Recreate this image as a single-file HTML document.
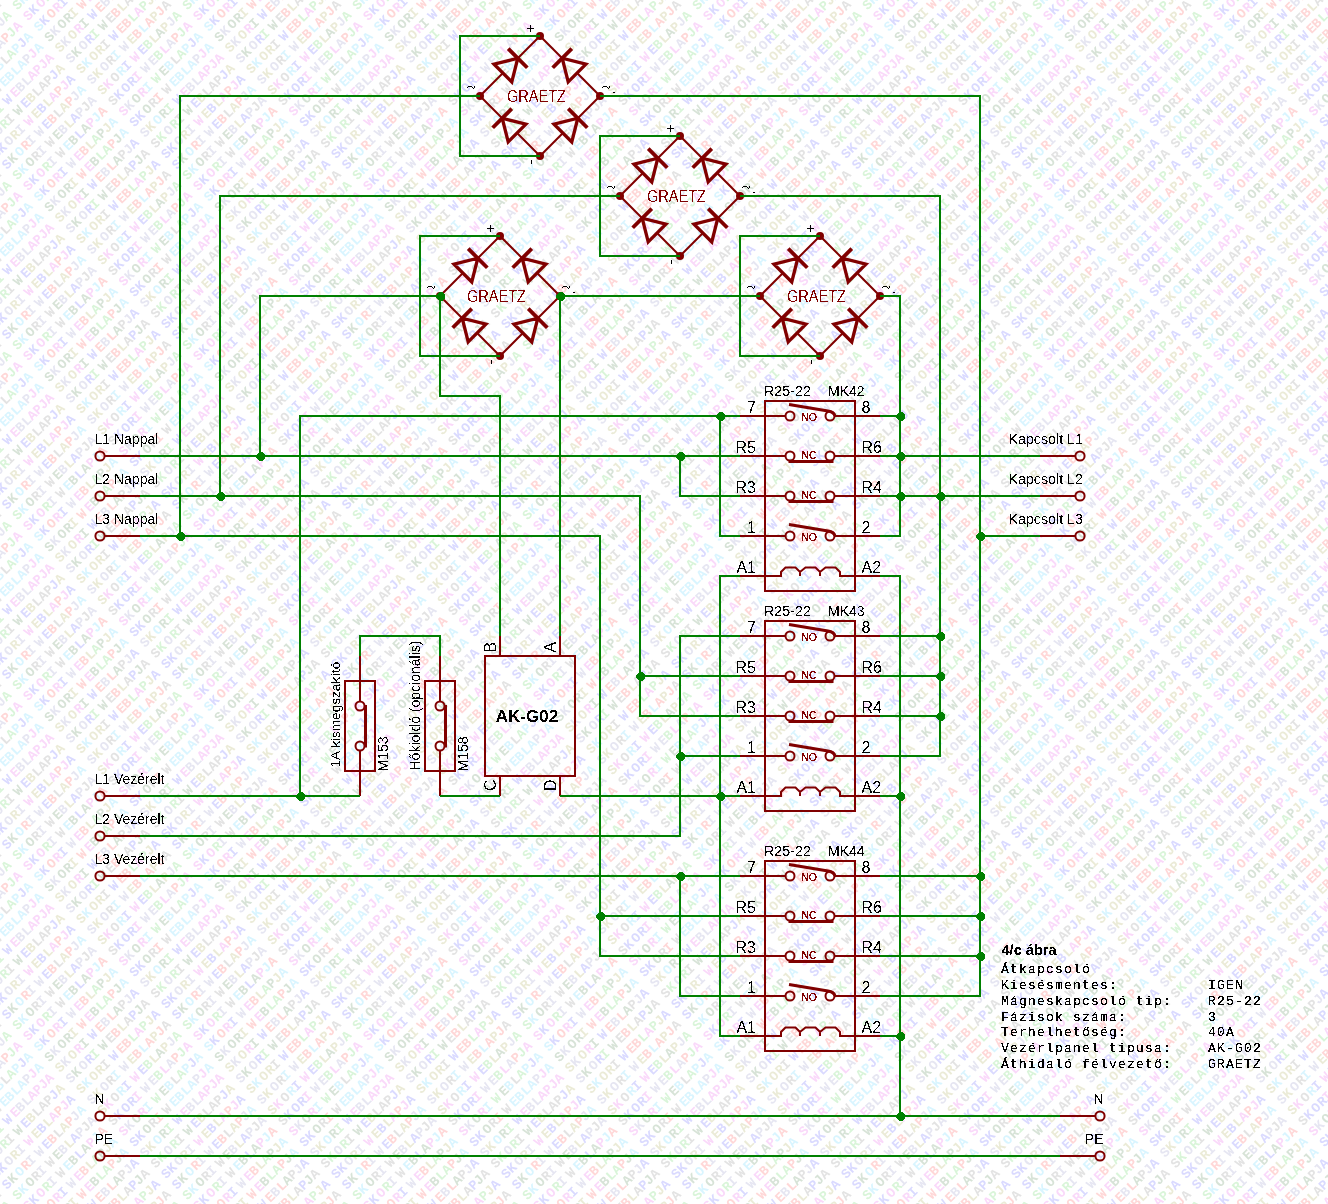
<!DOCTYPE html>
<html><head><meta charset="utf-8"><style>
html,body{margin:0;padding:0;background:#fff;width:1328px;height:1204px;overflow:hidden}
svg{display:block}
</style></head><body>
<svg width="1328" height="1204" viewBox="0 0 1328 1204">
<defs><pattern id="wm" patternUnits="userSpaceOnUse" x="7" y="0" width="170" height="170"><g transform="rotate(-45)" font-family="'Liberation Mono', monospace" font-weight="bold" font-size="13.5"><text x="0.00" y="-15.03" fill="#dadaff">S</text><text x="-15.71" y="0.00" fill="#e3e3e3">A</text><text x="0.00" y="0.00" fill="#dadaff">S</text><text x="8.01" y="0.00" fill="#d7e3d7">K</text><text x="-31.25" y="15.03" fill="#ebebd7">P</text><text x="-23.64" y="15.03" fill="#e6e6f2">J</text><text x="-15.71" y="15.03" fill="#d9f5d9">A</text><text x="0.00" y="15.03" fill="#d9f5d9">S</text><text x="8.01" y="15.03" fill="#d9f5ff">K</text><text x="18.03" y="15.03" fill="#d7e3d7">O</text><text x="26.85" y="15.03" fill="#e3e3e3">R</text><text x="-39.27" y="30.05" fill="#e6e6f2">A</text><text x="-31.25" y="30.05" fill="#ffd7d7">P</text><text x="-23.64" y="30.05" fill="#d9f5d9">J</text><text x="-15.71" y="30.05" fill="#fad9fa">A</text><text x="0.00" y="30.05" fill="#fad9fa">S</text><text x="8.01" y="30.05" fill="#dadaff">K</text><text x="18.03" y="30.05" fill="#fad9fa">O</text><text x="26.85" y="30.05" fill="#d9f5d9">R</text><text x="34.06" y="30.05" fill="#e6e6f2">I</text><text x="46.00" y="30.05" fill="#e3e3e3">W</text><text x="-56.10" y="45.08" fill="#d9f5ff">B</text><text x="-47.28" y="45.08" fill="#e3e3e3">L</text><text x="-39.27" y="45.08" fill="#d9f5d9">A</text><text x="-31.25" y="45.08" fill="#d9f5ff">P</text><text x="-23.64" y="45.08" fill="#dadaff">J</text><text x="-15.71" y="45.08" fill="#d9f5ff">A</text><text x="0.00" y="45.08" fill="#d9f5ff">S</text><text x="8.01" y="45.08" fill="#dadaff">K</text><text x="18.03" y="45.08" fill="#ffd7d7">O</text><text x="26.85" y="45.08" fill="#fad9fa">R</text><text x="34.06" y="45.08" fill="#dadaff">I</text><text x="46.00" y="45.08" fill="#e6e6f2">W</text><text x="56.66" y="45.08" fill="#fad9fa">E</text><text x="-74.21" y="60.10" fill="#e3e3e3">W</text><text x="-63.55" y="60.10" fill="#d9f5ff">E</text><text x="-56.10" y="60.10" fill="#d9f5ff">B</text><text x="-47.28" y="60.10" fill="#d9f5ff">L</text><text x="-39.27" y="60.10" fill="#d9f5ff">A</text><text x="-31.25" y="60.10" fill="#e6e6f2">P</text><text x="-23.64" y="60.10" fill="#fad9fa">J</text><text x="-15.71" y="60.10" fill="#d9f5ff">A</text><text x="0.00" y="60.10" fill="#d7e3d7">S</text><text x="8.01" y="60.10" fill="#e6e6f2">K</text><text x="18.03" y="60.10" fill="#d7e3d7">O</text><text x="26.85" y="60.10" fill="#d7e3d7">R</text><text x="34.06" y="60.10" fill="#ebebd7">I</text><text x="46.00" y="60.10" fill="#ffd7d7">W</text><text x="56.66" y="60.10" fill="#fad9fa">E</text><text x="64.11" y="60.10" fill="#d7e3d7">B</text><text x="72.93" y="60.10" fill="#d9f5d9">L</text><text x="-86.15" y="75.13" fill="#d9f5d9">I</text><text x="-74.21" y="75.13" fill="#dadaff">W</text><text x="-63.55" y="75.13" fill="#fad9fa">E</text><text x="-56.10" y="75.13" fill="#e6e6f2">B</text><text x="-47.28" y="75.13" fill="#e6e6f2">L</text><text x="-39.27" y="75.13" fill="#fad9fa">A</text><text x="-31.25" y="75.13" fill="#fad9fa">P</text><text x="-23.64" y="75.13" fill="#fad9fa">J</text><text x="-15.71" y="75.13" fill="#fad9fa">A</text><text x="0.00" y="75.13" fill="#ebebd7">S</text><text x="8.01" y="75.13" fill="#e6e6f2">K</text><text x="18.03" y="75.13" fill="#ebebd7">O</text><text x="26.85" y="75.13" fill="#fad9fa">R</text><text x="34.06" y="75.13" fill="#d7e3d7">I</text><text x="46.00" y="75.13" fill="#dadaff">W</text><text x="56.66" y="75.13" fill="#ffd7d7">E</text><text x="64.11" y="75.13" fill="#e6e6f2">B</text><text x="72.93" y="75.13" fill="#ffd7d7">L</text><text x="80.94" y="75.13" fill="#d7e3d7">A</text><text x="88.95" y="75.13" fill="#e3e3e3">P</text><text x="-102.18" y="90.16" fill="#e6e6f2">O</text><text x="-93.36" y="90.16" fill="#d9f5d9">R</text><text x="-86.15" y="90.16" fill="#e3e3e3">I</text><text x="-74.21" y="90.16" fill="#d7e3d7">W</text><text x="-63.55" y="90.16" fill="#dadaff">E</text><text x="-56.10" y="90.16" fill="#ebebd7">B</text><text x="-47.28" y="90.16" fill="#e3e3e3">L</text><text x="-39.27" y="90.16" fill="#e3e3e3">A</text><text x="-31.25" y="90.16" fill="#e3e3e3">P</text><text x="-23.64" y="90.16" fill="#dadaff">J</text><text x="-15.71" y="90.16" fill="#ebebd7">A</text><text x="0.00" y="90.16" fill="#e6e6f2">S</text><text x="8.01" y="90.16" fill="#d7e3d7">K</text><text x="18.03" y="90.16" fill="#e6e6f2">O</text><text x="26.85" y="90.16" fill="#dadaff">R</text><text x="34.06" y="90.16" fill="#d9f5d9">I</text><text x="46.00" y="90.16" fill="#d7e3d7">W</text><text x="56.66" y="90.16" fill="#e3e3e3">E</text><text x="64.11" y="90.16" fill="#ffd7d7">B</text><text x="72.93" y="90.16" fill="#ebebd7">L</text><text x="80.94" y="90.16" fill="#e3e3e3">A</text><text x="88.95" y="90.16" fill="#dadaff">P</text><text x="96.57" y="90.16" fill="#d7e3d7">J</text><text x="104.50" y="90.16" fill="#e3e3e3">A</text><text x="-120.21" y="105.18" fill="#dadaff">S</text><text x="-112.19" y="105.18" fill="#dadaff">K</text><text x="-102.18" y="105.18" fill="#e6e6f2">O</text><text x="-93.36" y="105.18" fill="#ebebd7">R</text><text x="-86.15" y="105.18" fill="#e6e6f2">I</text><text x="-74.21" y="105.18" fill="#fad9fa">W</text><text x="-63.55" y="105.18" fill="#ebebd7">E</text><text x="-56.10" y="105.18" fill="#dadaff">B</text><text x="-47.28" y="105.18" fill="#ebebd7">L</text><text x="-39.27" y="105.18" fill="#fad9fa">A</text><text x="-31.25" y="105.18" fill="#ffd7d7">P</text><text x="-23.64" y="105.18" fill="#fad9fa">J</text><text x="-15.71" y="105.18" fill="#dadaff">A</text><text x="0.00" y="105.18" fill="#ebebd7">S</text><text x="8.01" y="105.18" fill="#d9f5ff">K</text><text x="18.03" y="105.18" fill="#ebebd7">O</text><text x="26.85" y="105.18" fill="#ebebd7">R</text><text x="34.06" y="105.18" fill="#e3e3e3">I</text><text x="46.00" y="105.18" fill="#dadaff">W</text><text x="56.66" y="105.18" fill="#ffd7d7">E</text><text x="64.11" y="105.18" fill="#ffd7d7">B</text><text x="72.93" y="105.18" fill="#d9f5d9">L</text><text x="80.94" y="105.18" fill="#fad9fa">A</text><text x="88.95" y="105.18" fill="#d9f5d9">P</text><text x="96.57" y="105.18" fill="#ebebd7">J</text><text x="104.50" y="105.18" fill="#dadaff">A</text><text x="120.21" y="105.18" fill="#dadaff">S</text><text x="-135.92" y="120.21" fill="#e3e3e3">A</text><text x="-120.21" y="120.21" fill="#dadaff">S</text><text x="-112.19" y="120.21" fill="#d7e3d7">K</text><text x="-102.18" y="120.21" fill="#d9f5ff">O</text><text x="-93.36" y="120.21" fill="#ffd7d7">R</text><text x="-86.15" y="120.21" fill="#e6e6f2">I</text><text x="-74.21" y="120.21" fill="#e6e6f2">W</text><text x="-63.55" y="120.21" fill="#dadaff">E</text><text x="-56.10" y="120.21" fill="#ffd7d7">B</text><text x="-47.28" y="120.21" fill="#e3e3e3">L</text><text x="-39.27" y="120.21" fill="#ebebd7">A</text><text x="-31.25" y="120.21" fill="#ffd7d7">P</text><text x="-23.64" y="120.21" fill="#e6e6f2">J</text><text x="-15.71" y="120.21" fill="#d9f5ff">A</text><text x="0.00" y="120.21" fill="#e6e6f2">S</text><text x="8.01" y="120.21" fill="#ebebd7">K</text><text x="18.03" y="120.21" fill="#e6e6f2">O</text><text x="26.85" y="120.21" fill="#e3e3e3">R</text><text x="34.06" y="120.21" fill="#d9f5ff">I</text><text x="46.00" y="120.21" fill="#e6e6f2">W</text><text x="56.66" y="120.21" fill="#ebebd7">E</text><text x="64.11" y="120.21" fill="#ffd7d7">B</text><text x="72.93" y="120.21" fill="#d9f5ff">L</text><text x="80.94" y="120.21" fill="#ffd7d7">A</text><text x="88.95" y="120.21" fill="#ebebd7">P</text><text x="96.57" y="120.21" fill="#ffd7d7">J</text><text x="104.50" y="120.21" fill="#e3e3e3">A</text><text x="120.21" y="120.21" fill="#dadaff">S</text><text x="128.22" y="120.21" fill="#d7e3d7">K</text><text x="-120.21" y="135.23" fill="#d9f5d9">S</text><text x="-112.19" y="135.23" fill="#d9f5ff">K</text><text x="-102.18" y="135.23" fill="#d7e3d7">O</text><text x="-93.36" y="135.23" fill="#e3e3e3">R</text><text x="-86.15" y="135.23" fill="#e6e6f2">I</text><text x="-74.21" y="135.23" fill="#e3e3e3">W</text><text x="-63.55" y="135.23" fill="#d7e3d7">E</text><text x="-56.10" y="135.23" fill="#e6e6f2">B</text><text x="-47.28" y="135.23" fill="#ebebd7">L</text><text x="-39.27" y="135.23" fill="#dadaff">A</text><text x="-31.25" y="135.23" fill="#e6e6f2">P</text><text x="-23.64" y="135.23" fill="#e3e3e3">J</text><text x="-15.71" y="135.23" fill="#e6e6f2">A</text><text x="0.00" y="135.23" fill="#ebebd7">S</text><text x="8.01" y="135.23" fill="#fad9fa">K</text><text x="18.03" y="135.23" fill="#e3e3e3">O</text><text x="26.85" y="135.23" fill="#d9f5ff">R</text><text x="34.06" y="135.23" fill="#dadaff">I</text><text x="46.00" y="135.23" fill="#fad9fa">W</text><text x="56.66" y="135.23" fill="#dadaff">E</text><text x="64.11" y="135.23" fill="#d9f5d9">B</text><text x="72.93" y="135.23" fill="#ebebd7">L</text><text x="80.94" y="135.23" fill="#d7e3d7">A</text><text x="88.95" y="135.23" fill="#ebebd7">P</text><text x="96.57" y="135.23" fill="#e6e6f2">J</text><text x="104.50" y="135.23" fill="#d9f5d9">A</text><text x="120.21" y="135.23" fill="#d9f5d9">S</text><text x="-102.18" y="150.26" fill="#fad9fa">O</text><text x="-93.36" y="150.26" fill="#d9f5d9">R</text><text x="-86.15" y="150.26" fill="#e6e6f2">I</text><text x="-74.21" y="150.26" fill="#e3e3e3">W</text><text x="-63.55" y="150.26" fill="#d9f5ff">E</text><text x="-56.10" y="150.26" fill="#d7e3d7">B</text><text x="-47.28" y="150.26" fill="#dadaff">L</text><text x="-39.27" y="150.26" fill="#d7e3d7">A</text><text x="-31.25" y="150.26" fill="#fad9fa">P</text><text x="-23.64" y="150.26" fill="#d9f5ff">J</text><text x="-15.71" y="150.26" fill="#ffd7d7">A</text><text x="0.00" y="150.26" fill="#e3e3e3">S</text><text x="8.01" y="150.26" fill="#dadaff">K</text><text x="18.03" y="150.26" fill="#dadaff">O</text><text x="26.85" y="150.26" fill="#dadaff">R</text><text x="34.06" y="150.26" fill="#fad9fa">I</text><text x="46.00" y="150.26" fill="#e6e6f2">W</text><text x="56.66" y="150.26" fill="#e6e6f2">E</text><text x="64.11" y="150.26" fill="#d9f5d9">B</text><text x="72.93" y="150.26" fill="#fad9fa">L</text><text x="80.94" y="150.26" fill="#e6e6f2">A</text><text x="88.95" y="150.26" fill="#ffd7d7">P</text><text x="96.57" y="150.26" fill="#d9f5d9">J</text><text x="104.50" y="150.26" fill="#fad9fa">A</text><text x="-86.15" y="165.29" fill="#dadaff">I</text><text x="-74.21" y="165.29" fill="#e6e6f2">W</text><text x="-63.55" y="165.29" fill="#fad9fa">E</text><text x="-56.10" y="165.29" fill="#ffd7d7">B</text><text x="-47.28" y="165.29" fill="#ebebd7">L</text><text x="-39.27" y="165.29" fill="#d9f5d9">A</text><text x="-31.25" y="165.29" fill="#d7e3d7">P</text><text x="-23.64" y="165.29" fill="#ebebd7">J</text><text x="-15.71" y="165.29" fill="#d9f5ff">A</text><text x="0.00" y="165.29" fill="#fad9fa">S</text><text x="8.01" y="165.29" fill="#e6e6f2">K</text><text x="18.03" y="165.29" fill="#d7e3d7">O</text><text x="26.85" y="165.29" fill="#fad9fa">R</text><text x="34.06" y="165.29" fill="#d9f5ff">I</text><text x="46.00" y="165.29" fill="#d9f5d9">W</text><text x="56.66" y="165.29" fill="#d7e3d7">E</text><text x="64.11" y="165.29" fill="#d9f5ff">B</text><text x="72.93" y="165.29" fill="#e3e3e3">L</text><text x="80.94" y="165.29" fill="#d9f5d9">A</text><text x="88.95" y="165.29" fill="#d9f5ff">P</text><text x="-74.21" y="180.31" fill="#ffd7d7">W</text><text x="-63.55" y="180.31" fill="#fad9fa">E</text><text x="-56.10" y="180.31" fill="#d7e3d7">B</text><text x="-47.28" y="180.31" fill="#d9f5d9">L</text><text x="-39.27" y="180.31" fill="#d9f5d9">A</text><text x="-31.25" y="180.31" fill="#ffd7d7">P</text><text x="-23.64" y="180.31" fill="#d7e3d7">J</text><text x="-15.71" y="180.31" fill="#d9f5ff">A</text><text x="0.00" y="180.31" fill="#dadaff">S</text><text x="8.01" y="180.31" fill="#dadaff">K</text><text x="18.03" y="180.31" fill="#d7e3d7">O</text><text x="26.85" y="180.31" fill="#e3e3e3">R</text><text x="34.06" y="180.31" fill="#ffd7d7">I</text><text x="46.00" y="180.31" fill="#e3e3e3">W</text><text x="56.66" y="180.31" fill="#d9f5ff">E</text><text x="64.11" y="180.31" fill="#d9f5ff">B</text><text x="72.93" y="180.31" fill="#d9f5ff">L</text><text x="-56.10" y="195.34" fill="#e6e6f2">B</text><text x="-47.28" y="195.34" fill="#ffd7d7">L</text><text x="-39.27" y="195.34" fill="#d7e3d7">A</text><text x="-31.25" y="195.34" fill="#e3e3e3">P</text><text x="-23.64" y="195.34" fill="#e6e6f2">J</text><text x="-15.71" y="195.34" fill="#dadaff">A</text><text x="0.00" y="195.34" fill="#e6e6f2">S</text><text x="8.01" y="195.34" fill="#ebebd7">K</text><text x="18.03" y="195.34" fill="#d9f5ff">O</text><text x="26.85" y="195.34" fill="#d7e3d7">R</text><text x="34.06" y="195.34" fill="#d9f5d9">I</text><text x="46.00" y="195.34" fill="#dadaff">W</text><text x="56.66" y="195.34" fill="#fad9fa">E</text><text x="-39.27" y="210.36" fill="#e3e3e3">A</text><text x="-31.25" y="210.36" fill="#dadaff">P</text><text x="-23.64" y="210.36" fill="#d7e3d7">J</text><text x="-15.71" y="210.36" fill="#e3e3e3">A</text><text x="0.00" y="210.36" fill="#e3e3e3">S</text><text x="8.01" y="210.36" fill="#d9f5d9">K</text><text x="18.03" y="210.36" fill="#e6e6f2">O</text><text x="26.85" y="210.36" fill="#d9f5d9">R</text><text x="34.06" y="210.36" fill="#e3e3e3">I</text><text x="46.00" y="210.36" fill="#d7e3d7">W</text><text x="-31.25" y="225.39" fill="#d9f5d9">P</text><text x="-23.64" y="225.39" fill="#ebebd7">J</text><text x="-15.71" y="225.39" fill="#dadaff">A</text><text x="0.00" y="225.39" fill="#dadaff">S</text><text x="8.01" y="225.39" fill="#dadaff">K</text><text x="18.03" y="225.39" fill="#e6e6f2">O</text><text x="26.85" y="225.39" fill="#ebebd7">R</text><text x="-15.71" y="240.42" fill="#e3e3e3">A</text><text x="0.00" y="240.42" fill="#dadaff">S</text><text x="8.01" y="240.42" fill="#d7e3d7">K</text><text x="0.00" y="255.44" fill="#d9f5d9">S</text></g></pattern></defs><rect width="1328" height="1204" fill="#fff"/><rect width="1328" height="1204" fill="url(#wm)"/>
<rect x="765" y="401" width="90" height="190" fill="none" stroke="#800000" stroke-width="2" shape-rendering="crispEdges"/><rect x="765" y="621" width="90" height="190" fill="none" stroke="#800000" stroke-width="2" shape-rendering="crispEdges"/><rect x="765" y="861" width="90" height="190" fill="none" stroke="#800000" stroke-width="2" shape-rendering="crispEdges"/><rect x="345" y="681" width="30" height="90" fill="none" stroke="#800000" stroke-width="2" shape-rendering="crispEdges"/><rect x="425" y="681" width="30" height="90" fill="none" stroke="#800000" stroke-width="2" shape-rendering="crispEdges"/><rect x="485" y="656" width="90" height="120" fill="none" stroke="#800000" stroke-width="2" shape-rendering="crispEdges"/><path d="M104.6,456H140M104.6,496H140M104.6,536H140M104.6,796H140M104.6,836H140M104.6,876H140M104.6,1116H140M104.6,1156H140M1040,456H1075.4M1040,496H1075.4M1040,536H1075.4M1060,1116H1095.4M1060,1156H1095.4M740,416H785.5M834.5,416H880M740,456H785.5M834.5,456H880M740,496H785.5M834.5,496H880M740,536H785.5M834.5,536H880M740,576H781V572L785.5,567.5H795.5L800,572L805.5,567.5H815.5L820,572L825.5,567.5H835.5L840,572V576H880M800,572V576M820,572V576M740,636H785.5M834.5,636H880M740,676H785.5M834.5,676H880M740,716H785.5M834.5,716H880M740,756H785.5M834.5,756H880M740,796H781V792L785.5,787.5H795.5L800,792L805.5,787.5H815.5L820,792L825.5,787.5H835.5L840,792V796H880M800,792V796M820,792V796M740,876H785.5M834.5,876H880M740,916H785.5M834.5,916H880M740,956H785.5M834.5,956H880M740,996H785.5M834.5,996H880M740,1036H781V1032L785.5,1027.5H795.5L800,1032L805.5,1027.5H815.5L820,1032L825.5,1027.5H835.5L840,1032V1036H880M800,1032V1036M820,1032V1036M360,656V701.5M360,750.5V796M440,656V701.5M440,750.5V796M500,636V656M560,636V656M500,776V796M560,776V796M480,96L502.93,73.07M517.78,58.22L540,36M600,96L577.07,73.07M562.22,58.22L540,36M540,156L517.07,133.07M502.22,118.22L480,96M540,156L562.93,133.07M577.78,118.22L600,96M620,196L642.93,173.07M657.78,158.22L680,136M740,196L717.07,173.07M702.22,158.22L680,136M680,256L657.07,233.07M642.22,218.22L620,196M680,256L702.93,233.07M717.78,218.22L740,196M440,296L462.93,273.07M477.78,258.22L500,236M560,296L537.07,273.07M522.22,258.22L500,236M500,356L477.07,333.07M462.22,318.22L440,296M500,356L522.93,333.07M537.78,318.22L560,296M760,296L782.93,273.07M797.78,258.22L820,236M880,296L857.07,273.07M842.22,258.22L820,236M820,356L797.07,333.07M782.22,318.22L760,296M820,356L842.93,333.07M857.78,318.22L880,296" fill="none" stroke="#800000" stroke-width="2" stroke-linejoin="miter"/><path d="M494.09,64.23L511.77,81.91L517.78,58.22ZM568.23,81.91L585.91,64.23L562.22,58.22ZM508.23,141.91L525.91,124.23L502.22,118.22ZM554.09,124.23L571.77,141.91L577.78,118.22ZM634.09,164.23L651.77,181.91L657.78,158.22ZM708.23,181.91L725.91,164.23L702.22,158.22ZM648.23,241.91L665.91,224.23L642.22,218.22ZM694.09,224.23L711.77,241.91L717.78,218.22ZM454.09,264.23L471.77,281.91L477.78,258.22ZM528.23,281.91L545.91,264.23L522.22,258.22ZM468.23,341.91L485.91,324.23L462.22,318.22ZM514.09,324.23L531.77,341.91L537.78,318.22ZM774.09,264.23L791.77,281.91L797.78,258.22ZM848.23,281.91L865.91,264.23L842.22,258.22ZM788.23,341.91L805.91,324.23L782.22,318.22ZM834.09,324.23L851.77,341.91L857.78,318.22Z" fill="none" stroke="#800000" stroke-width="3.3" stroke-linejoin="miter"/><path d="M508.23,48.68L527.32,67.77M552.68,67.77L571.77,48.68M492.68,127.77L511.77,108.68M568.23,108.68L587.32,127.77M648.23,148.68L667.32,167.77M692.68,167.77L711.77,148.68M632.68,227.77L651.77,208.68M708.23,208.68L727.32,227.77M468.23,248.68L487.32,267.77M512.68,267.77L531.77,248.68M452.68,327.77L471.77,308.68M528.23,308.68L547.32,327.77M788.23,248.68L807.32,267.77M832.68,267.77L851.77,248.68M772.68,327.77L791.77,308.68M848.23,308.68L867.32,327.77" fill="none" stroke="#800000" stroke-width="3.8"/><path d="M789,404.5L828,411Q834,412 835,416M788.5,461.4H833.5M788.5,501.4H833.5M789,524.5L828,531Q834,532 835,536M789,624.5L828,631Q834,632 835,636M788.5,681.4H833.5M788.5,721.4H833.5M789,744.5L828,751Q834,752 835,756M789,864.5L828,871Q834,872 835,876M788.5,921.4H833.5M788.5,961.4H833.5M789,984.5L828,991Q834,992 835,996M365.5,705V747.5M445.5,705V747.5" fill="none" stroke="#800000" stroke-width="3"/><circle cx="100" cy="456" r="4.6" fill="none" stroke="#800000" stroke-width="2"/><circle cx="100" cy="496" r="4.6" fill="none" stroke="#800000" stroke-width="2"/><circle cx="100" cy="536" r="4.6" fill="none" stroke="#800000" stroke-width="2"/><circle cx="100" cy="796" r="4.6" fill="none" stroke="#800000" stroke-width="2"/><circle cx="100" cy="836" r="4.6" fill="none" stroke="#800000" stroke-width="2"/><circle cx="100" cy="876" r="4.6" fill="none" stroke="#800000" stroke-width="2"/><circle cx="100" cy="1116" r="4.6" fill="none" stroke="#800000" stroke-width="2"/><circle cx="100" cy="1156" r="4.6" fill="none" stroke="#800000" stroke-width="2"/><circle cx="1080" cy="456" r="4.6" fill="none" stroke="#800000" stroke-width="2"/><circle cx="1080" cy="496" r="4.6" fill="none" stroke="#800000" stroke-width="2"/><circle cx="1080" cy="536" r="4.6" fill="none" stroke="#800000" stroke-width="2"/><circle cx="1100" cy="1116" r="4.6" fill="none" stroke="#800000" stroke-width="2"/><circle cx="1100" cy="1156" r="4.6" fill="none" stroke="#800000" stroke-width="2"/><circle cx="790" cy="416" r="4.5" fill="none" stroke="#800000" stroke-width="2"/><circle cx="830" cy="416" r="4.5" fill="none" stroke="#800000" stroke-width="2"/><circle cx="790" cy="456" r="4.5" fill="none" stroke="#800000" stroke-width="2"/><circle cx="830" cy="456" r="4.5" fill="none" stroke="#800000" stroke-width="2"/><circle cx="790" cy="496" r="4.5" fill="none" stroke="#800000" stroke-width="2"/><circle cx="830" cy="496" r="4.5" fill="none" stroke="#800000" stroke-width="2"/><circle cx="790" cy="536" r="4.5" fill="none" stroke="#800000" stroke-width="2"/><circle cx="830" cy="536" r="4.5" fill="none" stroke="#800000" stroke-width="2"/><circle cx="790" cy="636" r="4.5" fill="none" stroke="#800000" stroke-width="2"/><circle cx="830" cy="636" r="4.5" fill="none" stroke="#800000" stroke-width="2"/><circle cx="790" cy="676" r="4.5" fill="none" stroke="#800000" stroke-width="2"/><circle cx="830" cy="676" r="4.5" fill="none" stroke="#800000" stroke-width="2"/><circle cx="790" cy="716" r="4.5" fill="none" stroke="#800000" stroke-width="2"/><circle cx="830" cy="716" r="4.5" fill="none" stroke="#800000" stroke-width="2"/><circle cx="790" cy="756" r="4.5" fill="none" stroke="#800000" stroke-width="2"/><circle cx="830" cy="756" r="4.5" fill="none" stroke="#800000" stroke-width="2"/><circle cx="790" cy="876" r="4.5" fill="none" stroke="#800000" stroke-width="2"/><circle cx="830" cy="876" r="4.5" fill="none" stroke="#800000" stroke-width="2"/><circle cx="790" cy="916" r="4.5" fill="none" stroke="#800000" stroke-width="2"/><circle cx="830" cy="916" r="4.5" fill="none" stroke="#800000" stroke-width="2"/><circle cx="790" cy="956" r="4.5" fill="none" stroke="#800000" stroke-width="2"/><circle cx="830" cy="956" r="4.5" fill="none" stroke="#800000" stroke-width="2"/><circle cx="790" cy="996" r="4.5" fill="none" stroke="#800000" stroke-width="2"/><circle cx="830" cy="996" r="4.5" fill="none" stroke="#800000" stroke-width="2"/><circle cx="360" cy="706" r="4.5" fill="none" stroke="#800000" stroke-width="2"/><circle cx="360" cy="746" r="4.5" fill="none" stroke="#800000" stroke-width="2"/><circle cx="440" cy="706" r="4.5" fill="none" stroke="#800000" stroke-width="2"/><circle cx="440" cy="746" r="4.5" fill="none" stroke="#800000" stroke-width="2"/><circle cx="540" cy="36" r="4" fill="#800000"/><circle cx="540" cy="156" r="4" fill="#800000"/><circle cx="480" cy="96" r="4" fill="#800000"/><circle cx="600" cy="96" r="4" fill="#800000"/><circle cx="680" cy="136" r="4" fill="#800000"/><circle cx="680" cy="256" r="4" fill="#800000"/><circle cx="620" cy="196" r="4" fill="#800000"/><circle cx="740" cy="196" r="4" fill="#800000"/><circle cx="500" cy="236" r="4" fill="#800000"/><circle cx="500" cy="356" r="4" fill="#800000"/><circle cx="440" cy="296" r="4" fill="#800000"/><circle cx="560" cy="296" r="4" fill="#800000"/><circle cx="820" cy="236" r="4" fill="#800000"/><circle cx="820" cy="356" r="4" fill="#800000"/><circle cx="760" cy="296" r="4" fill="#800000"/><circle cx="880" cy="296" r="4" fill="#800000"/><path d="M527,28.5H534M530.5,25V32M531.5,160V164M613,92.5H615M467,88L469,86H471L473,88H474L475,86M602,88L604,86H606L608,88H609L610,86M667,128.5H674M670.5,125V132M671.5,260V264M753,192.5H755M607,188L609,186H611L613,188H614L615,186M742,188L744,186H746L748,188H749L750,186M487,228.5H494M490.5,225V232M491.5,360V364M573,292.5H575M427,288L429,286H431L433,288H434L435,286M562,288L564,286H566L568,288H569L570,286M807,228.5H814M810.5,225V232M811.5,360V364M893,292.5H895M747,288L749,286H751L753,288H754L755,286M882,288L884,286H886L888,288H889L890,286" fill="none" stroke="#000000" stroke-width="1" shape-rendering="crispEdges"/><path d="M540,36H460V156H540M680,136H600V256H680M500,236H420V356H500M820,236H740V356H820M480,96H180V536M600,96H980V996H880M620,196H220V496M740,196H940V756H880M440,296H260V456M440,296V396H500V636M560,296H760M560,296V636M880,296H900V536H880M140,456H740M680,456V496H740M300,796V416H740M720,416V536H740M740,576H720V1036H740M880,456H1040M880,416H900M880,496H1040M880,576H900V1116M140,496H640V716H740M640,676H740M140,536H600V956H740M600,916H740M980,536H1040M740,636H680V836H140M680,756H740M560,796H740M880,636H940M880,676H940M880,716H940M880,796H900M140,876H740M680,876V996H740M880,876H980M880,916H980M880,956H980M880,1036H900M140,1116H1060M140,1156H1060M140,796H360V796M360,656V636H440V656M440,796H500M140,836H140" fill="none" stroke="#008000" stroke-width="2" stroke-linejoin="miter" shape-rendering="crispEdges"/><path d="M179,532L182,532L185,535L185,538L182,541L179,541L176,538L176,535ZM219,492L222,492L225,495L225,498L222,501L219,501L216,498L216,495ZM259,452L262,452L265,455L265,458L262,461L259,461L256,458L256,455ZM439,292L442,292L445,295L445,298L442,301L439,301L436,298L436,295ZM559,292L562,292L565,295L565,298L562,301L559,301L556,298L556,295ZM299,792L302,792L305,795L305,798L302,801L299,801L296,798L296,795ZM719,412L722,412L725,415L725,418L722,421L719,421L716,418L716,415ZM679,452L682,452L685,455L685,458L682,461L679,461L676,458L676,455ZM899,412L902,412L905,415L905,418L902,421L899,421L896,418L896,415ZM899,452L902,452L905,455L905,458L902,461L899,461L896,458L896,455ZM899,492L902,492L905,495L905,498L902,501L899,501L896,498L896,495ZM939,492L942,492L945,495L945,498L942,501L939,501L936,498L936,495ZM979,532L982,532L985,535L985,538L982,541L979,541L976,538L976,535ZM639,672L642,672L645,675L645,678L642,681L639,681L636,678L636,675ZM679,752L682,752L685,755L685,758L682,761L679,761L676,758L676,755ZM719,792L722,792L725,795L725,798L722,801L719,801L716,798L716,795ZM939,632L942,632L945,635L945,638L942,641L939,641L936,638L936,635ZM939,672L942,672L945,675L945,678L942,681L939,681L936,678L936,675ZM939,712L942,712L945,715L945,718L942,721L939,721L936,718L936,715ZM899,792L902,792L905,795L905,798L902,801L899,801L896,798L896,795ZM679,872L682,872L685,875L685,878L682,881L679,881L676,878L676,875ZM599,912L602,912L605,915L605,918L602,921L599,921L596,918L596,915ZM979,872L982,872L985,875L985,878L982,881L979,881L976,878L976,875ZM979,912L982,912L985,915L985,918L982,921L979,921L976,918L976,915ZM979,952L982,952L985,955L985,958L982,961L979,961L976,958L976,955ZM899,1032L902,1032L905,1035L905,1038L902,1041L899,1041L896,1038L896,1035ZM899,1112L902,1112L905,1115L905,1118L902,1121L899,1121L896,1118L896,1115Z" fill="#008000" shape-rendering="crispEdges"/><filter id="crisp" x="0" y="0" width="1328" height="1204" filterUnits="userSpaceOnUse"><feComponentTransfer><feFuncA type="discrete" tableValues="0 0 0 0 0 1 1 1 1 1"/></feComponentTransfer></filter><filter id="crisp2" x="0" y="0" width="1328" height="1204" filterUnits="userSpaceOnUse"><feComponentTransfer><feFuncA type="discrete" tableValues="0 0 0 1 1 1 1 1 1 1"/></feComponentTransfer></filter><filter id="crisp3" x="0" y="0" width="1328" height="1204" filterUnits="userSpaceOnUse"><feComponentTransfer><feFuncA type="discrete" tableValues="0 0 0 0 1 1 1 1 1 1"/></feComponentTransfer></filter><g filter="url(#crisp)"><text x="94.5" y="444" font-size="14" fill="#000000" text-anchor="start" font-weight="normal" font-family='"Liberation Sans", sans-serif' >L1 Nappal</text><text x="94.5" y="484" font-size="14" fill="#000000" text-anchor="start" font-weight="normal" font-family='"Liberation Sans", sans-serif' >L2 Nappal</text><text x="94.5" y="524" font-size="14" fill="#000000" text-anchor="start" font-weight="normal" font-family='"Liberation Sans", sans-serif' >L3 Nappal</text><text x="94.5" y="784" font-size="14" fill="#000000" text-anchor="start" font-weight="normal" font-family='"Liberation Sans", sans-serif' >L1 Vezérelt</text><text x="94.5" y="824" font-size="14" fill="#000000" text-anchor="start" font-weight="normal" font-family='"Liberation Sans", sans-serif' >L2 Vezérelt</text><text x="94.5" y="864" font-size="14" fill="#000000" text-anchor="start" font-weight="normal" font-family='"Liberation Sans", sans-serif' >L3 Vezérelt</text><text x="1083" y="444" font-size="14" fill="#000000" text-anchor="end" font-weight="normal" font-family='"Liberation Sans", sans-serif'  textLength="74.6" lengthAdjust="spacingAndGlyphs">Kapcsolt L1</text><text x="1083" y="484" font-size="14" fill="#000000" text-anchor="end" font-weight="normal" font-family='"Liberation Sans", sans-serif'  textLength="74.6" lengthAdjust="spacingAndGlyphs">Kapcsolt L2</text><text x="1083" y="524" font-size="14" fill="#000000" text-anchor="end" font-weight="normal" font-family='"Liberation Sans", sans-serif'  textLength="74.6" lengthAdjust="spacingAndGlyphs">Kapcsolt L3</text><text x="1103.5" y="1104" font-size="14" fill="#000000" text-anchor="end" font-weight="normal" font-family='"Liberation Sans", sans-serif' >N</text><text x="94.5" y="1104" font-size="14" fill="#000000" text-anchor="start" font-weight="normal" font-family='"Liberation Sans", sans-serif' >N</text><text x="94.5" y="1144" font-size="14" fill="#000000" text-anchor="start" font-weight="normal" font-family='"Liberation Sans", sans-serif' >PE</text><text x="1103.5" y="1144" font-size="14" fill="#000000" text-anchor="end" font-weight="normal" font-family='"Liberation Sans", sans-serif' >PE</text><text x="764" y="396" font-size="14" fill="#000000" text-anchor="start" font-weight="normal" font-family='"Liberation Sans", sans-serif'  textLength="46.9" lengthAdjust="spacingAndGlyphs">R25-22</text><text x="828" y="396" font-size="14" fill="#000000" text-anchor="start" font-weight="normal" font-family='"Liberation Sans", sans-serif' >MK42</text><text x="756" y="413" font-size="16" fill="#000000" text-anchor="end" font-weight="normal" font-family='"Liberation Sans", sans-serif' >7</text><text x="756" y="453" font-size="16" fill="#000000" text-anchor="end" font-weight="normal" font-family='"Liberation Sans", sans-serif' >R5</text><text x="756" y="493" font-size="16" fill="#000000" text-anchor="end" font-weight="normal" font-family='"Liberation Sans", sans-serif' >R3</text><text x="756" y="533" font-size="16" fill="#000000" text-anchor="end" font-weight="normal" font-family='"Liberation Sans", sans-serif' >1</text><text x="756" y="573" font-size="16" fill="#000000" text-anchor="end" font-weight="normal" font-family='"Liberation Sans", sans-serif' >A1</text><text x="861.5" y="413" font-size="16" fill="#000000" text-anchor="start" font-weight="normal" font-family='"Liberation Sans", sans-serif' >8</text><text x="861.5" y="453" font-size="16" fill="#000000" text-anchor="start" font-weight="normal" font-family='"Liberation Sans", sans-serif' >R6</text><text x="861.5" y="493" font-size="16" fill="#000000" text-anchor="start" font-weight="normal" font-family='"Liberation Sans", sans-serif' >R4</text><text x="861.5" y="533" font-size="16" fill="#000000" text-anchor="start" font-weight="normal" font-family='"Liberation Sans", sans-serif' >2</text><text x="861.5" y="573" font-size="16" fill="#000000" text-anchor="start" font-weight="normal" font-family='"Liberation Sans", sans-serif' >A2</text><text x="764" y="616" font-size="14" fill="#000000" text-anchor="start" font-weight="normal" font-family='"Liberation Sans", sans-serif'  textLength="46.9" lengthAdjust="spacingAndGlyphs">R25-22</text><text x="828" y="616" font-size="14" fill="#000000" text-anchor="start" font-weight="normal" font-family='"Liberation Sans", sans-serif' >MK43</text><text x="756" y="633" font-size="16" fill="#000000" text-anchor="end" font-weight="normal" font-family='"Liberation Sans", sans-serif' >7</text><text x="756" y="673" font-size="16" fill="#000000" text-anchor="end" font-weight="normal" font-family='"Liberation Sans", sans-serif' >R5</text><text x="756" y="713" font-size="16" fill="#000000" text-anchor="end" font-weight="normal" font-family='"Liberation Sans", sans-serif' >R3</text><text x="756" y="753" font-size="16" fill="#000000" text-anchor="end" font-weight="normal" font-family='"Liberation Sans", sans-serif' >1</text><text x="756" y="793" font-size="16" fill="#000000" text-anchor="end" font-weight="normal" font-family='"Liberation Sans", sans-serif' >A1</text><text x="861.5" y="633" font-size="16" fill="#000000" text-anchor="start" font-weight="normal" font-family='"Liberation Sans", sans-serif' >8</text><text x="861.5" y="673" font-size="16" fill="#000000" text-anchor="start" font-weight="normal" font-family='"Liberation Sans", sans-serif' >R6</text><text x="861.5" y="713" font-size="16" fill="#000000" text-anchor="start" font-weight="normal" font-family='"Liberation Sans", sans-serif' >R4</text><text x="861.5" y="753" font-size="16" fill="#000000" text-anchor="start" font-weight="normal" font-family='"Liberation Sans", sans-serif' >2</text><text x="861.5" y="793" font-size="16" fill="#000000" text-anchor="start" font-weight="normal" font-family='"Liberation Sans", sans-serif' >A2</text><text x="764" y="856" font-size="14" fill="#000000" text-anchor="start" font-weight="normal" font-family='"Liberation Sans", sans-serif'  textLength="46.9" lengthAdjust="spacingAndGlyphs">R25-22</text><text x="828" y="856" font-size="14" fill="#000000" text-anchor="start" font-weight="normal" font-family='"Liberation Sans", sans-serif' >MK44</text><text x="756" y="873" font-size="16" fill="#000000" text-anchor="end" font-weight="normal" font-family='"Liberation Sans", sans-serif' >7</text><text x="756" y="913" font-size="16" fill="#000000" text-anchor="end" font-weight="normal" font-family='"Liberation Sans", sans-serif' >R5</text><text x="756" y="953" font-size="16" fill="#000000" text-anchor="end" font-weight="normal" font-family='"Liberation Sans", sans-serif' >R3</text><text x="756" y="993" font-size="16" fill="#000000" text-anchor="end" font-weight="normal" font-family='"Liberation Sans", sans-serif' >1</text><text x="756" y="1033" font-size="16" fill="#000000" text-anchor="end" font-weight="normal" font-family='"Liberation Sans", sans-serif' >A1</text><text x="861.5" y="873" font-size="16" fill="#000000" text-anchor="start" font-weight="normal" font-family='"Liberation Sans", sans-serif' >8</text><text x="861.5" y="913" font-size="16" fill="#000000" text-anchor="start" font-weight="normal" font-family='"Liberation Sans", sans-serif' >R6</text><text x="861.5" y="953" font-size="16" fill="#000000" text-anchor="start" font-weight="normal" font-family='"Liberation Sans", sans-serif' >R4</text><text x="861.5" y="993" font-size="16" fill="#000000" text-anchor="start" font-weight="normal" font-family='"Liberation Sans", sans-serif' >2</text><text x="861.5" y="1033" font-size="16" fill="#000000" text-anchor="start" font-weight="normal" font-family='"Liberation Sans", sans-serif' >A2</text><text x="0" y="0" font-size="13.6" fill="#000000" text-anchor="start" font-weight="normal" font-family='"Liberation Sans", sans-serif' transform="translate(340,767.5) rotate(-90)">1A kismegszakító</text><text x="0" y="0" font-size="14" fill="#000000" text-anchor="start" font-weight="normal" font-family='"Liberation Sans", sans-serif' transform="translate(387.5,771.5) rotate(-90)">M153</text><text x="0" y="0" font-size="14" fill="#000000" text-anchor="start" font-weight="normal" font-family='"Liberation Sans", sans-serif' transform="translate(420,770.5) rotate(-90)">Hőkioldó (opcionális)</text><text x="0" y="0" font-size="14" fill="#000000" text-anchor="start" font-weight="normal" font-family='"Liberation Sans", sans-serif' transform="translate(467.5,771.5) rotate(-90)">M158</text><text x="0" y="0" font-size="16" fill="#000000" text-anchor="start" font-weight="normal" font-family='"Liberation Sans", sans-serif' transform="translate(496,652.5) rotate(-90)">B</text><text x="0" y="0" font-size="16" fill="#000000" text-anchor="start" font-weight="normal" font-family='"Liberation Sans", sans-serif' transform="translate(556,652.5) rotate(-90)">A</text><text x="0" y="0" font-size="16" fill="#000000" text-anchor="start" font-weight="normal" font-family='"Liberation Sans", sans-serif' transform="translate(496,791) rotate(-90)">C</text><text x="0" y="0" font-size="16" fill="#000000" text-anchor="start" font-weight="normal" font-family='"Liberation Sans", sans-serif' transform="translate(556,791) rotate(-90)">D</text><text x="527" y="722" font-size="17" fill="#000000" text-anchor="middle" font-weight="bold" font-family='"Liberation Sans", sans-serif' >AK-G02</text><text x="536.5" y="102" font-size="16" fill="#800000" text-anchor="middle" font-weight="normal" font-family='"Liberation Sans", sans-serif'  textLength="59" lengthAdjust="spacingAndGlyphs">GRAETZ</text><text x="676.5" y="202" font-size="16" fill="#800000" text-anchor="middle" font-weight="normal" font-family='"Liberation Sans", sans-serif'  textLength="59" lengthAdjust="spacingAndGlyphs">GRAETZ</text><text x="496.5" y="302" font-size="16" fill="#800000" text-anchor="middle" font-weight="normal" font-family='"Liberation Sans", sans-serif'  textLength="59" lengthAdjust="spacingAndGlyphs">GRAETZ</text><text x="816.5" y="302" font-size="16" fill="#800000" text-anchor="middle" font-weight="normal" font-family='"Liberation Sans", sans-serif'  textLength="59" lengthAdjust="spacingAndGlyphs">GRAETZ</text><text x="1001.5" y="955" font-size="14.6" fill="#000000" text-anchor="start" font-weight="bold" font-family='"Liberation Sans", sans-serif' >4/c ábra</text></g><g filter="url(#crisp2)"><text x="809" y="420.5" font-size="10.5" fill="#800000" text-anchor="middle" font-weight="normal" font-family='"Liberation Sans", sans-serif' >NO</text><text x="809" y="459" font-size="10.5" fill="#800000" text-anchor="middle" font-weight="normal" font-family='"Liberation Sans", sans-serif' >NC</text><text x="809" y="499" font-size="10.5" fill="#800000" text-anchor="middle" font-weight="normal" font-family='"Liberation Sans", sans-serif' >NC</text><text x="809" y="540.5" font-size="10.5" fill="#800000" text-anchor="middle" font-weight="normal" font-family='"Liberation Sans", sans-serif' >NO</text><text x="809" y="640.5" font-size="10.5" fill="#800000" text-anchor="middle" font-weight="normal" font-family='"Liberation Sans", sans-serif' >NO</text><text x="809" y="679" font-size="10.5" fill="#800000" text-anchor="middle" font-weight="normal" font-family='"Liberation Sans", sans-serif' >NC</text><text x="809" y="719" font-size="10.5" fill="#800000" text-anchor="middle" font-weight="normal" font-family='"Liberation Sans", sans-serif' >NC</text><text x="809" y="760.5" font-size="10.5" fill="#800000" text-anchor="middle" font-weight="normal" font-family='"Liberation Sans", sans-serif' >NO</text><text x="809" y="880.5" font-size="10.5" fill="#800000" text-anchor="middle" font-weight="normal" font-family='"Liberation Sans", sans-serif' >NO</text><text x="809" y="919" font-size="10.5" fill="#800000" text-anchor="middle" font-weight="normal" font-family='"Liberation Sans", sans-serif' >NC</text><text x="809" y="959" font-size="10.5" fill="#800000" text-anchor="middle" font-weight="normal" font-family='"Liberation Sans", sans-serif' >NC</text><text x="809" y="1000.5" font-size="10.5" fill="#800000" text-anchor="middle" font-weight="normal" font-family='"Liberation Sans", sans-serif' >NO</text></g><g filter="url(#crisp3)"><text x="1001" y="972.8" font-size="13" fill="#000000" text-anchor="start" font-weight="normal" font-family='"Liberation Mono", monospace' letter-spacing="1.2">Átkapcsoló</text><text x="1001" y="988.7" font-size="13" fill="#000000" text-anchor="start" font-weight="normal" font-family='"Liberation Mono", monospace' letter-spacing="1.2">Kiesésmentes:</text><text x="1208" y="988.7" font-size="13" fill="#000000" text-anchor="start" font-weight="normal" font-family='"Liberation Mono", monospace' letter-spacing="1.2">IGEN</text><text x="1001" y="1004.6" font-size="13" fill="#000000" text-anchor="start" font-weight="normal" font-family='"Liberation Mono", monospace' letter-spacing="1.2">Mágneskapcsoló tip:</text><text x="1208" y="1004.6" font-size="13" fill="#000000" text-anchor="start" font-weight="normal" font-family='"Liberation Mono", monospace' letter-spacing="1.2">R25-22</text><text x="1001" y="1020.5" font-size="13" fill="#000000" text-anchor="start" font-weight="normal" font-family='"Liberation Mono", monospace' letter-spacing="1.2">Fázisok száma:</text><text x="1208" y="1020.5" font-size="13" fill="#000000" text-anchor="start" font-weight="normal" font-family='"Liberation Mono", monospace' letter-spacing="1.2">3</text><text x="1001" y="1036.4" font-size="13" fill="#000000" text-anchor="start" font-weight="normal" font-family='"Liberation Mono", monospace' letter-spacing="1.2">Terhelhetőség:</text><text x="1208" y="1036.4" font-size="13" fill="#000000" text-anchor="start" font-weight="normal" font-family='"Liberation Mono", monospace' letter-spacing="1.2">40A</text><text x="1001" y="1052.3" font-size="13" fill="#000000" text-anchor="start" font-weight="normal" font-family='"Liberation Mono", monospace' letter-spacing="1.2">Vezérlpanel tipusa:</text><text x="1208" y="1052.3" font-size="13" fill="#000000" text-anchor="start" font-weight="normal" font-family='"Liberation Mono", monospace' letter-spacing="1.2">AK-G02</text><text x="1001" y="1068.2" font-size="13" fill="#000000" text-anchor="start" font-weight="normal" font-family='"Liberation Mono", monospace' letter-spacing="1.2">Áthidaló félvezető:</text><text x="1208" y="1068.2" font-size="13" fill="#000000" text-anchor="start" font-weight="normal" font-family='"Liberation Mono", monospace' letter-spacing="1.2">GRAETZ</text></g>
</svg>
</body></html>
